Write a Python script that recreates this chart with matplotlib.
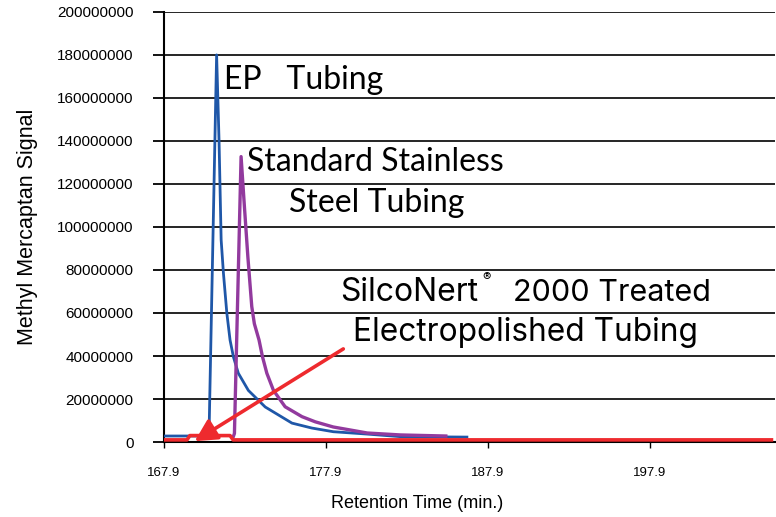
import matplotlib
matplotlib.use("Agg")
import matplotlib.pyplot as plt
from matplotlib.ticker import FuncFormatter

# EP tubing (blue)
ep_time = [167.9, 170.5, 170.68, 171.15, 171.30, 171.43, 171.57, 171.78, 171.98,
           172.19, 172.49, 173.11, 174.15, 175.80, 177.03, 178.35, 180.45, 182.5, 186.6]
ep_signal = [2.8e6, 2.8e6, 3.0e6, 180e6, 140e6, 94e6, 78.6e6, 60e6, 47.4e6,
             39.5e6, 32e6, 24e6, 16.3e6, 8.8e6, 6.5e6, 4.8e6, 3.7e6, 2.5e6, 2.3e6]

# Standard stainless steel tubing (purple)
ss_time = [172.18, 172.25, 172.66, 172.87, 173.08, 173.32, 173.48, 173.77, 173.98,
           174.25, 174.66, 175.38, 176.42, 177.24, 178.35, 180.45, 182.5, 185.3]
ss_signal = [2.5e6, 4.0e6, 132.7e6, 109e6, 86e6, 63e6, 55e6, 47.4e6, 39.7e6,
             32e6, 24e6, 16.4e6, 11.8e6, 9.4e6, 7.0e6, 4.2e6, 3.3e6, 2.8e6]

# SilcoNert 2000 treated electropolished tubing (red)
sn_time = [167.9, 169.32, 169.5, 171.98, 172.17, 205.4]
sn_signal = [1.0e6, 1.0e6, 3.0e6, 3.0e6, 1.0e6, 1.0e6]

x_ticks = [167.9, 177.9, 187.9, 197.9]
y_ticks = [i * 20e6 for i in range(11)]

fig = plt.figure(figsize=(7.76, 5.17), dpi=100)
ax = fig.add_axes([0.2113, 0.145, 0.7874, 0.832])

ax.plot(ep_time, ep_signal, color="#1f57a8", lw=2.0, zorder=3)
ax.plot(ss_time, ss_signal, color="#923a9e", lw=2.4, zorder=3)
ax.plot(sn_time, sn_signal, color="#ee2a2e", lw=2.6, zorder=4)

# arrow pointing at the SilcoNert trace
ax.annotate("", xy=(169.8, 0.4e6), xytext=(178.97, 43.3e6),
            arrowprops=dict(arrowstyle="-|>,head_length=0.95,head_width=0.5",
                            mutation_scale=14, color="#ee2a2e", lw=2.6,
                            shrinkA=0, shrinkB=0),
            zorder=5)

ax.set_xlim(167.9, 205.62)
ax.set_ylim(0, 200e6)
ax.set_xticks(x_ticks)
ax.set_xticklabels([f"{t:.1f}" for t in x_ticks])
ax.set_yticks(y_ticks)
ax.yaxis.set_major_formatter(FuncFormatter(lambda v, p: f"{int(v)}"))

ax.grid(axis="y", color="black", lw=1.2, zorder=0.5)
ax.set_axisbelow(True)
for s in ("top", "right"):
    ax.spines[s].set_visible(False)
for s in ("left", "bottom"):
    ax.spines[s].set_linewidth(1.5)

helv = ["Liberation Sans", "DejaVu Sans"]
ax.tick_params(axis="y", direction="out", length=8, width=1.3, pad=14, labelsize=11)
ax.tick_params(axis="x", direction="out", length=4, width=1.0, pad=14, labelsize=9.5)
for lab in ax.get_xticklabels() + ax.get_yticklabels():
    lab.set_family(helv)

fig.text(0.035, 0.562, "Methyl Mercaptan Signal", rotation=90, ha="center",
         va="center", fontsize=15.5, family=helv)
fig.text(0.537, 0.027, "Retention Time (min.)", ha="center", va="center",
         fontsize=13, family=helv)

label_font = ["Lato", "DejaVu Sans"]
ax.text(171.61, 168.4e6, "EP   Tubing", fontsize=23, ha="left", va="center",
        family=label_font)
ax.text(173.03, 130.2e6, "Standard Stainless", fontsize=23, ha="left",
        va="center", family=label_font)
ax.text(175.63, 111.2e6, "Steel Tubing", fontsize=23, ha="left", va="center",
        family=label_font)

grot = ["Inter", "Liberation Sans", "DejaVu Sans"]
ax.text(178.78, 69.3e6, "SilcoNert", fontsize=23, ha="left", va="center", family=grot)
ax.text(187.55, 76.3e6, "®", fontsize=9, ha="left", va="center", family=grot)
ax.text(189.42, 69.3e6, "2000 Treated", fontsize=22, ha="left", va="center", family=grot)
ax.text(179.59, 50.7e6, "Electropolished Tubing", fontsize=22.8, ha="left",
        va="center", family=grot)

fig.savefig("out.png", dpi=100)
